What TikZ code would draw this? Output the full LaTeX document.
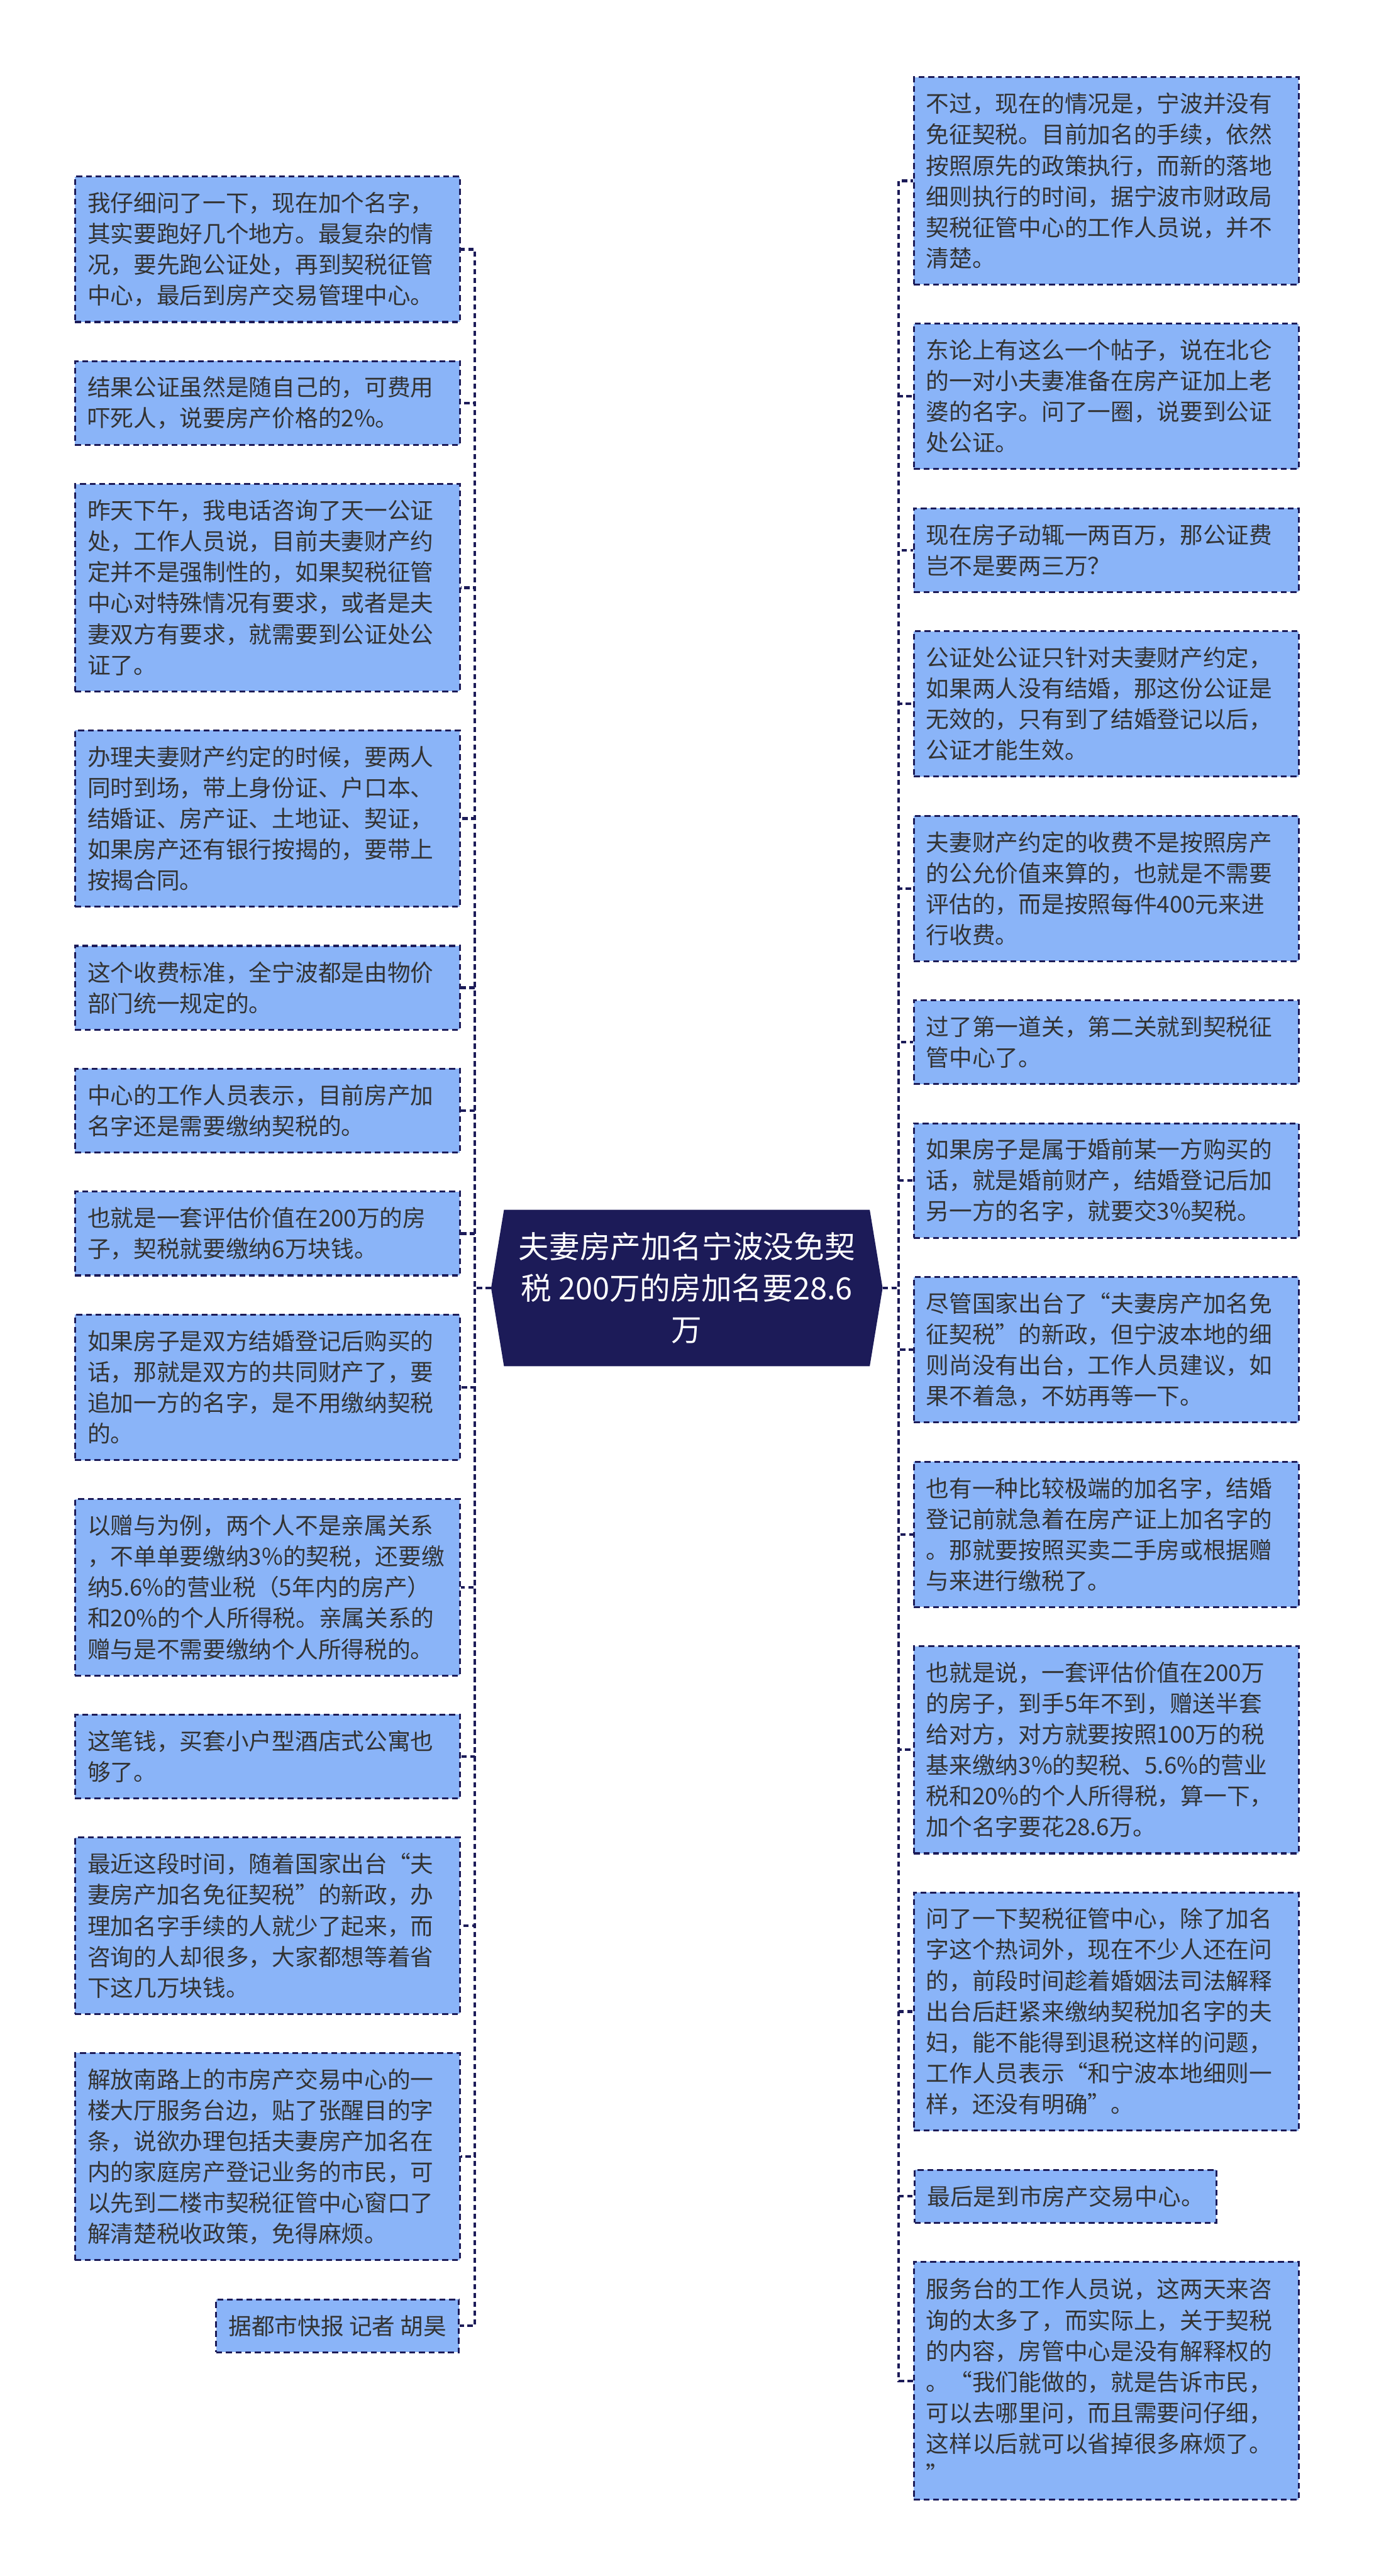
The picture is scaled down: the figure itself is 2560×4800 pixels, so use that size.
\documentclass[tikz,border=0pt]{standalone}
\usepackage{fontspec}
\newfontfamily\cjk{Noto Sans CJK SC}
\usetikzlibrary{backgrounds}
\definecolor{navy}{HTML}{1C1B58}
\definecolor{boxblue}{HTML}{8AB4F8}
\definecolor{txt}{HTML}{333333}
\begin{document}
\begin{tikzpicture}[x=0.25pt,y=-0.25pt,
  box/.style={draw=navy, line width=0.9pt, dash pattern=on 2.75pt off 1.75pt,
    fill=boxblue, text=txt, font=\cjk\fontsize{10.75pt}{14.375pt}\selectfont,
    align=left, text width=167.75pt, inner xsep=0pt, inner ysep=0pt, minimum width=179.25pt},
  sbox/.style={box, text width={}, inner xsep=5.75pt, minimum width=0pt},
  hub/.style={text=white, font=\cjk\fontsize{14.25pt}{19.25pt}\selectfont, align=center,
    minimum width=182pt, minimum height=72.5pt, inner sep=0pt},
  conn/.style={draw=navy, line width=1.25pt, dash pattern=on 2.5pt off 1.6pt}]
\useasboundingbox (0,0) rectangle (2560,4800);

% hub
\node[hub] (c) at (1280,2400) {夫妻房产加名宁波没免契\\税 200万的房加名要28.6\\万};
\begin{scope}[on background layer]
\fill[white] (0,0) rectangle (2560,4800);
\fill[navy] ([xshift=6pt]c.north west) -- ([xshift=-6pt]c.north east) -- (c.east)
  -- ([xshift=-6pt]c.south east) -- ([xshift=6pt]c.south west) -- (c.west) -- cycle;
\end{scope}

% left column
\node[box, minimum height=67.75pt] (L1) at (498.5,464.5) {我仔细问了一下，现在加个名字，\\其实要跑好几个地方。最复杂的情\\况，要先跑公证处，再到契税征管\\中心，最后到房产交易管理中心。};
\node[box, minimum height=39pt] (L2) at (498.5,751) {结果公证虽然是随自己的，可费用\\吓死人，说要房产价格的2\%。};
\node[box, minimum height=96.5pt] (L3) at (498.5,1095) {昨天下午，我电话咨询了天一公证\\处，工作人员说，目前夫妻财产约\\定并不是强制性的，如果契税征管\\中心对特殊情况有要求，或者是夫\\妻双方有要求，就需要到公证处公\\证了。};
\node[box, minimum height=82.125pt] (L4) at (498.5,1525.25) {办理夫妻财产约定的时候，要两人\\同时到场，带上身份证、户口本、\\结婚证、房产证、土地证、契证，\\如果房产还有银行按揭的，要带上\\按揭合同。};
\node[box, minimum height=39pt] (L5) at (498.5,1840.5) {这个收费标准，全宁波都是由物价\\部门统一规定的。};
\node[box, minimum height=39pt] (L6) at (498.5,2069.5) {中心的工作人员表示，目前房产加\\名字还是需要缴纳契税的。};
\node[box, minimum height=39pt] (L7) at (498.5,2298.5) {也就是一套评估价值在200万的房\\子，契税就要缴纳6万块钱。};
\node[box, minimum height=67.75pt] (L8) at (498.5,2585) {如果房子是双方结婚登记后购买的\\话，那就是双方的共同财产了，要\\追加一方的名字，是不用缴纳契税\\的。};
\node[box, minimum height=82.125pt] (L9) at (498.5,2957.75) {以赠与为例，两个人不是亲属关系\\，不单单要缴纳3\%的契税，还要缴\\纳5.6\%的营业税（5年内的房产）\\和20\%的个人所得税。亲属关系的\\赠与是不需要缴纳个人所得税的。};
\node[box, minimum height=39pt] (L10) at (498.5,3273) {这笔钱，买套小户型酒店式公寓也\\够了。};
\node[box, minimum height=82.125pt] (L11) at (498.5,3588.25) {最近这段时间，随着国家出台“夫\\妻房产加名免征契税”的新政，办\\理加名字手续的人就少了起来，而\\咨询的人却很多，大家都想等着省\\下这几万块钱。};
\node[box, minimum height=96.5pt] (L12) at (498.5,4018.5) {解放南路上的市房产交易中心的一\\楼大厅服务台边，贴了张醒目的字\\条，说欲办理包括夫妻房产加名在\\内的家庭房产登记业务的市民，可\\以先到二楼市契税征管中心窗口了\\解清楚税收政策，免得麻烦。};
\node[sbox, minimum height=24.625pt, anchor=east] (L13) at (857,4333.75) {据都市快报 记者 胡昊};

% right column
\node[box, minimum height=96.5pt] (R1) at (2061.5,337) {不过，现在的情况是，宁波并没有\\免征契税。目前加名的手续，依然\\按照原先的政策执行，而新的落地\\细则执行的时间，据宁波市财政局\\契税征管中心的工作人员说，并不\\清楚。};
\node[box, minimum height=67.75pt] (R2) at (2061.5,738.5) {东论上有这么一个帖子，说在北仑\\的一对小夫妻准备在房产证加上老\\婆的名字。问了一圈，说要到公证\\处公证。};
\node[box, minimum height=39pt] (R3) at (2061.5,1025) {现在房子动辄一两百万，那公证费\\岂不是要两三万？};
\node[box, minimum height=67.75pt] (R4) at (2061.5,1311.5) {公证处公证只针对夫妻财产约定，\\如果两人没有结婚，那这份公证是\\无效的，只有到了结婚登记以后，\\公证才能生效。};
\node[box, minimum height=67.75pt] (R5) at (2061.5,1655.5) {夫妻财产约定的收费不是按照房产\\的公允价值来算的，也就是不需要\\评估的，而是按照每件400元来进\\行收费。};
\node[box, minimum height=39pt] (R6) at (2061.5,1942) {过了第一道关，第二关就到契税征\\管中心了。};
\node[box, minimum height=53.375pt] (R7) at (2061.5,2199.75) {如果房子是属于婚前某一方购买的\\话，就是婚前财产，结婚登记后加\\另一方的名字，就要交3\%契税。};
\node[box, minimum height=67.75pt] (R8) at (2061.5,2515) {尽管国家出台了“夫妻房产加名免\\征契税”的新政，但宁波本地的细\\则尚没有出台，工作人员建议，如\\果不着急，不妨再等一下。};
\node[box, minimum height=67.75pt] (R9) at (2061.5,2859) {也有一种比较极端的加名字，结婚\\登记前就急着在房产证上加名字的\\。那就要按照买卖二手房或根据赠\\与来进行缴税了。};
\node[box, minimum height=96.5pt] (R10) at (2061.5,3260.5) {也就是说，一套评估价值在200万\\的房子，到手5年不到，赠送半套\\给对方，对方就要按照100万的税\\基来缴纳3\%的契税、5.6\%的营业\\税和20\%的个人所得税，算一下，\\加个名字要花28.6万。};
\node[box, minimum height=110.875pt] (R11) at (2061.5,3748.25) {问了一下契税征管中心，除了加名\\字这个热词外，现在不少人还在问\\的，前段时间趁着婚姻法司法解释\\出台后赶紧来缴纳契税加名字的夫\\妇，能不能得到退税这样的问题，\\工作人员表示“和宁波本地细则一\\样，还没有明确”。};
\node[sbox, minimum height=24.625pt, anchor=west] (R12) at (1703,4092.25) {最后是到市房产交易中心。};
\node[box, minimum height=110.875pt] (R13) at (2061.5,4436.25) {服务台的工作人员说，这两天来咨\\询的太多了，而实际上，关于契税\\的内容，房管中心是没有解释权的\\。“我们能做的，就是告诉市民，\\可以去哪里问，而且需要问仔细，\\这样以后就可以省掉很多麻烦了。\\”};

% connectors
\foreach \n in {L1,L2,L3,L4,L5,L6,L7,L8,L9,L10,L11,L12,L13}
  \draw[conn] (c.west) -- (885,2400) |- (\n.east);
\foreach \n in {R1,R2,R3,R4,R5,R6,R7,R8,R9,R10,R11,R12,R13}
  \draw[conn] (c.east) -- (1675,2400) |- (\n.west);
\end{tikzpicture}
\end{document}
